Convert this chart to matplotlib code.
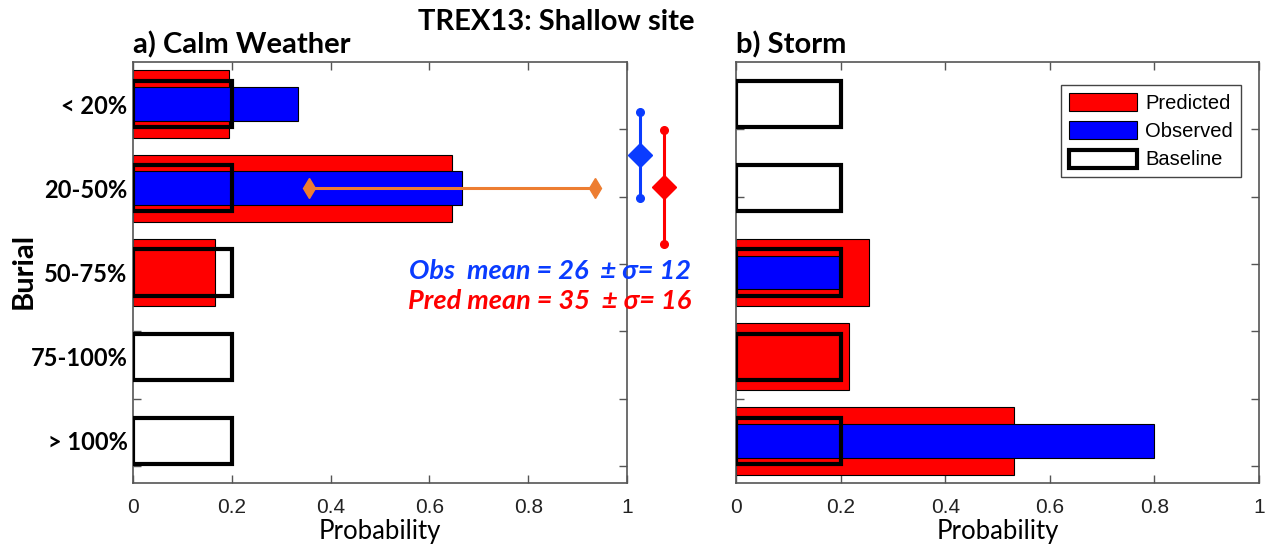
import numpy as np
import matplotlib
matplotlib.use('Agg')
from matplotlib import pyplot as plt
from matplotlib.patches import Patch
from matplotlib.ticker import FixedLocator

# burial classes and probabilities
burial = ['< 20%', '20-50%', '50-75%', '75-100%', '> 100%']
baseline = [0.2, 0.2, 0.2, 0.2, 0.2]

calm_pred = [0.195, 0.645, 0.165, 0.0, 0.0]
calm_obs = [0.333, 0.667, 0.0, 0.0, 0.0]
storm_pred = [0.0, 0.0, 0.254, 0.216, 0.532]
storm_obs = [0.0, 0.0, 0.2, 0.0, 0.8]

# mean burial (percent) and std
obs_mean, obs_std = 26, 12
pred_mean, pred_std = 35, 16

# spread of predicted probability, 20-50% class
spread_lo, spread_hi = 0.356, 0.935

xticks = [0, 0.2, 0.4, 0.6, 0.8, 1.0]
xticklabels = ['0', '0.2', '0.4', '0.6', '0.8', '1']

RED = '#FF0000'
BLUE = '#0000FF'
TXT_BLUE = '#0A3CFF'
ORANGE = '#ED7D31'
SPINE = '#555555'
CAL = ['Lato', 'DejaVu Sans']
HEL = ['Liberation Sans', 'DejaVu Sans']

W, H = 1265, 546
fig = plt.figure(figsize=(W / 100, H / 100), dpi=100)

def px(x0, y0, x1, y1):
    return [x0 / W, 1 - y1 / H, (x1 - x0) / W, (y1 - y0) / H]

ax1 = fig.add_axes(px(133, 62, 627, 483))
ax2 = fig.add_axes(px(736, 62, 1259, 483))

y = np.arange(1, len(burial) + 1)

def draw(ax, pred, obs):
    pred = np.array(pred)
    obs = np.array(obs)
    m = pred > 0
    ax.barh(y[m], pred[m], height=0.8, color=RED, edgecolor='k', linewidth=0.8, zorder=2)
    m = obs > 0
    ax.barh(y[m], obs[m], height=0.4, color=BLUE, edgecolor='k', linewidth=0.8, zorder=3)
    ax.barh(y, baseline, height=0.55, fill=False, edgecolor='k', linewidth=3, zorder=4)
    ax.set_xlim(0, 1)
    ax.set_ylim(5.5, 0.5)
    ax.set_xticks(xticks)
    ax.set_xticklabels(xticklabels, family=HEL, fontsize=15, color='#222222')
    ax.set_yticks(y)
    ax.yaxis.set_minor_locator(FixedLocator([1.3, 2.1, 2.9, 3.7, 4.5, 5.3]))
    ax.tick_params(axis='x', which='major', direction='in', top=True, length=6,
                   width=1, color=SPINE, pad=11)
    ax.tick_params(axis='y', which='major', length=0, pad=4)
    ax.tick_params(axis='y', which='minor', direction='in', left=True, right=True,
                   length=6, width=1, color=SPINE)
    for s in ax.spines.values():
        s.set_color(SPINE)
        s.set_linewidth(1.2)
    ax.set_xlabel('Probability', family=CAL, fontsize=18.5, labelpad=1)

draw(ax1, calm_pred, calm_obs)
draw(ax2, storm_pred, storm_obs)

ax1.set_yticklabels(burial, family=CAL, fontsize=17, fontweight='bold')
ax2.set_yticklabels([])
fig.text(24 / W, 1 - 271 / H, 'Burial', family=CAL, fontsize=21, fontweight='bold',
         rotation=90, ha='center', va='center')

ax1.text(0.0, 1.008, 'a) Calm Weather', transform=ax1.transAxes, family=CAL,
         fontsize=21, fontweight='bold', va='bottom', ha='left')
ax2.text(0.0, 1.008, 'b) Storm', transform=ax2.transAxes, family=CAL,
         fontsize=21, fontweight='bold', va='bottom', ha='left')
fig.text(556 / W, 1 - 22 / H, 'TREX13: Shallow site', family=CAL, fontsize=21,
         fontweight='bold', ha='center', va='center')

# predicted spread on the 20-50% row
ax1.plot([spread_lo, spread_hi], [2, 2], color=ORANGE, lw=2.2, zorder=5)
ax1.plot([spread_lo, spread_hi], [2, 2], 'd', color=ORANGE, ms=10, zorder=6)

# mean +/- std of burial, drawn in the gap between panels
axm = fig.add_axes(px(628, 62, 676, 483))
axm.set_xlim(-0.5, 1.5)
axm.set_ylim(118, 0)
axm.axis('off')
for xi, mu, sd, c in [(0, obs_mean, obs_std, TXT_BLUE), (1, pred_mean, pred_std, RED)]:
    axm.plot([xi, xi], [mu - sd, mu + sd], '-', color=c, lw=2.2)
    axm.plot([xi, xi], [mu - sd, mu + sd], 'o', color=c, ms=5.5)
    axm.plot([xi], [mu], 'D', color=c, ms=12.5)

fig.text(550 / W, 1 - 271 / H, f'Obs  mean = {obs_mean}  \u00b1 \u03c3= {obs_std}',
         color=TXT_BLUE, family=CAL, fontsize=19.5, fontweight='bold', style='italic',
         ha='center', va='center')
fig.text(550 / W, 1 - 301 / H, f'Pred mean = {pred_mean}  \u00b1 \u03c3= {pred_std}',
         color=RED, family=CAL, fontsize=19.5, fontweight='bold', style='italic',
         ha='center', va='center')

handles = [Patch(facecolor=RED, edgecolor='k', linewidth=0.8),
           Patch(facecolor=BLUE, edgecolor='k', linewidth=0.8),
           Patch(facecolor='white', edgecolor='k', linewidth=3)]
leg = ax2.legend(handles, ['Predicted', 'Observed', 'Baseline'], loc='upper right',
                 bbox_to_anchor=(0.966, 0.946), borderaxespad=0, fancybox=False,
                 prop={'family': HEL, 'size': 14.5}, handlelength=3.4, handleheight=1.0,
                 labelspacing=0.42, handletextpad=0.4, borderpad=0.4, framealpha=1)
leg.get_frame().set_edgecolor('#444444')
leg.get_frame().set_linewidth(1)

fig.savefig('out.png', dpi=100)
